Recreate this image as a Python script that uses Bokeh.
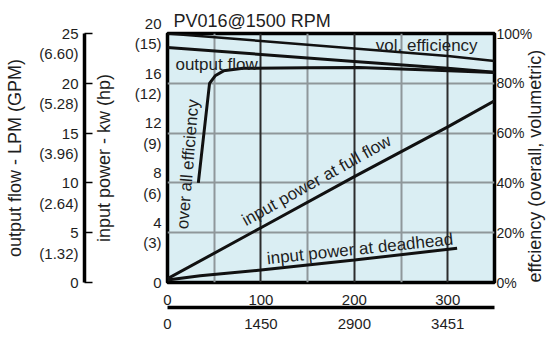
import math
from bokeh.plotting import figure
from bokeh.models import Range1d, LinearAxis, FixedTicker, Grid, Label
from bokeh.embed import file_html
from bokeh.resources import INLINE

# ---------------- data ----------------
bar_ticks = [0, 100, 200, 300]
bar_labels = ["0", "100", "200", "300"]
psi_labels = ["0", "1450", "2900", "3451"]

kw_ticks = [0, 4, 8, 12, 16, 20]
kw_labels = ["0", "4\n(3)", "8\n(6)", "12\n(9)", "16\n(12)", "20\n(15)"]

lpm_ticks = [0, 5, 10, 15, 20, 25]
lpm_labels = ["0", " \n5\n(1.32)", " \n10\n(2.64)", " \n15\n(3.96)", " \n20\n(5.28)", " \n25\n(6.60)"]

pct_ticks = [0, 20, 40, 60, 80, 100]
pct_labels = ["0%", "20%", "40%", "60%", "80%", "100%"]

linear_bar = [0, 100, 200, 300, 350]
vol_eff_pct = [100, 97, 94, 91, 89]
output_flow_lpm = [23.6, 22.9, 22.2, 21.5, 21.1]
full_flow_kw = [0.3, 4.4, 8.5, 12.5, 14.6]

overall_bar = [33, 45, 51, 60, 81, 150, 205, 280, 350]
overall_eff_pct = [40, 80, 83, 85, 86, 86.2, 86.3, 85.3, 84.3]

deadhead_bar = [0, 35, 100, 200, 310]
deadhead_kw = [0.2, 0.55, 1.0, 1.8, 2.75]

FONT = "Liberation Sans"
TXT = "#1e1e1e"

p = figure(width=558, height=338,
           x_range=Range1d(0, 350), y_range=Range1d(0, 20),
           output_backend="svg", toolbar_location=None,
           min_border_left=167, min_border_right=62, min_border_top=33, min_border_bottom=56,
           background_fill_color="#daeef3", border_fill_color="white",
           outline_line_color="black", outline_line_width=3.5)
p.extra_y_ranges = {"lpm": Range1d(0, 25), "pct": Range1d(0, 100)}

# title
p.title.text = "PV016@1500 RPM"
p.title.text_font = FONT
p.title.text_font_size = "18px"
p.title.text_font_style = "normal"
p.title.text_color = TXT
p.title.align = "left"
p.title.offset = 6
p.title.standoff = 6

def style_axis(ax, size="15px"):
    ax.major_label_text_font = FONT
    ax.major_label_text_font_size = size
    ax.major_label_text_color = TXT
    ax.axis_label_text_font = FONT
    ax.axis_label_text_font_style = "normal"
    ax.axis_label_text_color = TXT
    ax.minor_tick_line_color = None
    ax.major_tick_out = 0
    ax.major_tick_in = 0

# kW axis (inner left)
ya = p.yaxis[0]
style_axis(ya)
ya.ticker = FixedTicker(ticks=kw_ticks)
ya.major_label_overrides = dict(zip(kw_ticks, kw_labels))
ya.axis_line_color = None
ya.major_tick_line_color = None
ya.major_label_standoff = 6
ya.axis_label = "input power - kw (hp)"
ya.axis_label_text_font_size = "18px"
ya.axis_label_standoff = 18

# blank gap between the kW title and the LPM axis (one invisible tick)
gap = LinearAxis(ticker=FixedTicker(ticks=[10]), major_label_overrides={10: ""},
                 axis_line_color=None, major_tick_line_color="white",
                 minor_tick_line_color=None, major_tick_in=0, major_tick_out=6,
                 minor_tick_out=0, major_label_standoff=0)
p.add_layout(gap, "left")

# LPM axis (outer left)
lpm = LinearAxis(y_range_name="lpm")
style_axis(lpm)
lpm.ticker = FixedTicker(ticks=lpm_ticks)
lpm.major_label_overrides = dict(zip(lpm_ticks, lpm_labels))
lpm.axis_line_color = "black"
lpm.axis_line_width = 3.5
lpm.major_tick_in = 8
lpm.major_tick_line_color = "black"
lpm.major_tick_line_width = 1.5
lpm.major_label_standoff = 6
lpm.axis_label = "output flow - LPM (GPM)"
lpm.axis_label_text_font_size = "18px"
lpm.axis_label_standoff = 11
p.add_layout(lpm, "left")

# right efficiency axis
pct = LinearAxis(y_range_name="pct")
style_axis(pct, "14px")
pct.ticker = FixedTicker(ticks=pct_ticks)
pct.major_label_overrides = dict(zip(pct_ticks, pct_labels))
pct.axis_line_color = None
pct.major_tick_line_color = None
pct.major_label_standoff = 2
pct.axis_label = "effciency (overall, volumetric)"
pct.axis_label_text_font_size = "18px"
pct.axis_label_orientation = math.pi / 2
pct.axis_label_align = "start"
pct.axis_label_text_baseline = "top"
pct.axis_label_standoff = 0
p.add_layout(pct, "right")

# bottom bar axis
xa = p.xaxis[0]
style_axis(xa)
xa.ticker = FixedTicker(ticks=bar_ticks)
xa.major_label_overrides = dict(zip(bar_ticks, bar_labels))
xa.axis_line_color = None
xa.major_tick_line_color = None
xa.major_label_standoff = 12

# psi axis
psi = LinearAxis()
style_axis(psi)
psi.ticker = FixedTicker(ticks=bar_ticks)
psi.major_label_overrides = dict(zip(bar_ticks, psi_labels))
psi.axis_line_color = "black"
psi.axis_line_width = 3.5
psi.major_tick_line_color = None
psi.major_label_standoff = 11
p.add_layout(psi, "below")

# grids
p.ygrid.ticker = FixedTicker(ticks=[4, 8, 12, 16])
p.ygrid.grid_line_color = "#8f979a"
p.ygrid.grid_line_width = 2
p.xgrid.ticker = FixedTicker(ticks=[50, 150, 250])
p.xgrid.grid_line_color = "#8f979a"
p.xgrid.grid_line_width = 2
p.add_layout(Grid(dimension=0, ticker=FixedTicker(ticks=[100, 200, 300]),
                  grid_line_color="#2c2c2c", grid_line_width=2))

LC = "#111111"
p.line(linear_bar, vol_eff_pct, y_range_name="pct", line_color=LC, line_width=2.5)
p.line(linear_bar, output_flow_lpm, y_range_name="lpm", line_color=LC, line_width=3)
p.line(overall_bar, overall_eff_pct, y_range_name="pct", line_color=LC, line_width=3)
p.line(linear_bar, full_flow_kw, line_color=LC, line_width=3)
p.line(deadhead_bar, deadhead_kw, line_color=LC, line_width=3)

def lab(x, y, text, size="17px", angle=0.0, align="left", baseline="middle"):
    p.add_layout(Label(x=x, y=y, text=text, angle=angle, text_font=FONT,
                       text_font_size=size, text_color=TXT,
                       text_align=align, text_baseline=baseline))

lab(223, 19.05, "vol. efficiency")
lab(8.5, 17.55, "output flow")
lab(21.8, 9.5, "over all efficiency", angle=1.489, align="center")
lab(159.6, 8.2, "input power at full flow", angle=0.51, align="center")
lab(206, 2.7, "input power at deadhead", angle=0.105, align="center")
lab(-44.7, -2.41, "Pressure", size="17px", align="right")
lab(-41.5, -1.6, "bar", size="15px")
lab(-41.5, -3.86, "psi", size="15px")

open("out.html", "w").write(file_html(p, INLINE))
